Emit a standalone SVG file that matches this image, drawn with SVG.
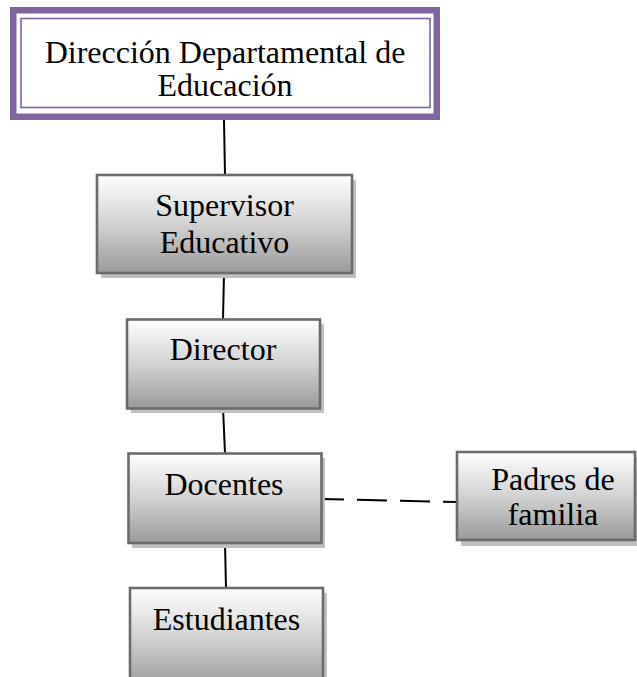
<svg xmlns="http://www.w3.org/2000/svg" width="637" height="677" viewBox="0 0 637 677">
<defs>
<linearGradient id="g" x1="0" y1="0" x2="0" y2="1">
<stop offset="0" stop-color="#ffffff"/>
<stop offset="0.5" stop-color="#d2d2d2"/>
<stop offset="1" stop-color="#9a9a9a"/>
</linearGradient>
<style>
.t{font-family:"Liberation Serif","Times New Roman",serif;font-size:32px;fill:#000;text-anchor:middle}
.box{fill:url(#g);stroke:#6b6b6b;stroke-width:2.6}
.sh{fill:#c0c0c0}
.c{stroke:#000;stroke-width:2;fill:none}
</style>
</defs>
<rect width="637" height="677" fill="#fff"/>
<g id="connectors">
<line class="c" x1="224" y1="120" x2="225" y2="175"/>
<line class="c" x1="224" y1="273" x2="223" y2="319"/>
<line class="c" x1="223" y1="408" x2="225" y2="453"/>
<line class="c" x1="225" y1="543" x2="226" y2="588"/>
<line class="c" x1="321" y1="499" x2="457" y2="502" stroke-dasharray="30 13" stroke-dashoffset="7"/>
</g>
<g id="direccion">
<rect x="13.25" y="10.25" width="423.5" height="106.5" fill="#fff" stroke="#8064A2" stroke-width="6.5"/>
<rect x="21" y="18.5" width="409" height="89" fill="none" stroke="#8064A2" stroke-width="1.6"/>
<text class="t" x="225" y="63">Dirección Departamental de</text>
<text class="t" x="225" y="96">Educación</text>
</g>
<g id="supervisor">
<rect class="sh" x="101" y="180" width="255" height="98"/>
<rect class="box" x="97" y="175" width="255" height="98"/>
<text class="t" x="224.5" y="216">Supervisor</text>
<text class="t" x="224.5" y="253">Educativo</text>
</g>
<g id="director">
<rect class="sh" x="131" y="324" width="193" height="89"/>
<rect class="box" x="127" y="319.5" width="193" height="89"/>
<text class="t" x="223" y="360">Director</text>
</g>
<g id="docentes">
<rect class="sh" x="132" y="458" width="193" height="90"/>
<rect class="box" x="128.5" y="453.5" width="193" height="89.5"/>
<text class="t" x="224" y="495">Docentes</text>
</g>
<g id="padres">
<rect class="sh" x="461" y="457" width="190" height="89"/>
<rect class="box" x="457" y="452" width="178" height="88"/>
<text class="t" x="553" y="490">Padres de</text>
<text class="t" x="553" y="525">familia</text>
</g>
<g id="estudiantes">
<rect class="sh" x="134" y="593" width="193" height="100"/>
<rect class="box" x="130" y="588" width="193" height="100"/>
<text class="t" x="226.5" y="630">Estudiantes</text>
</g>
</svg>
